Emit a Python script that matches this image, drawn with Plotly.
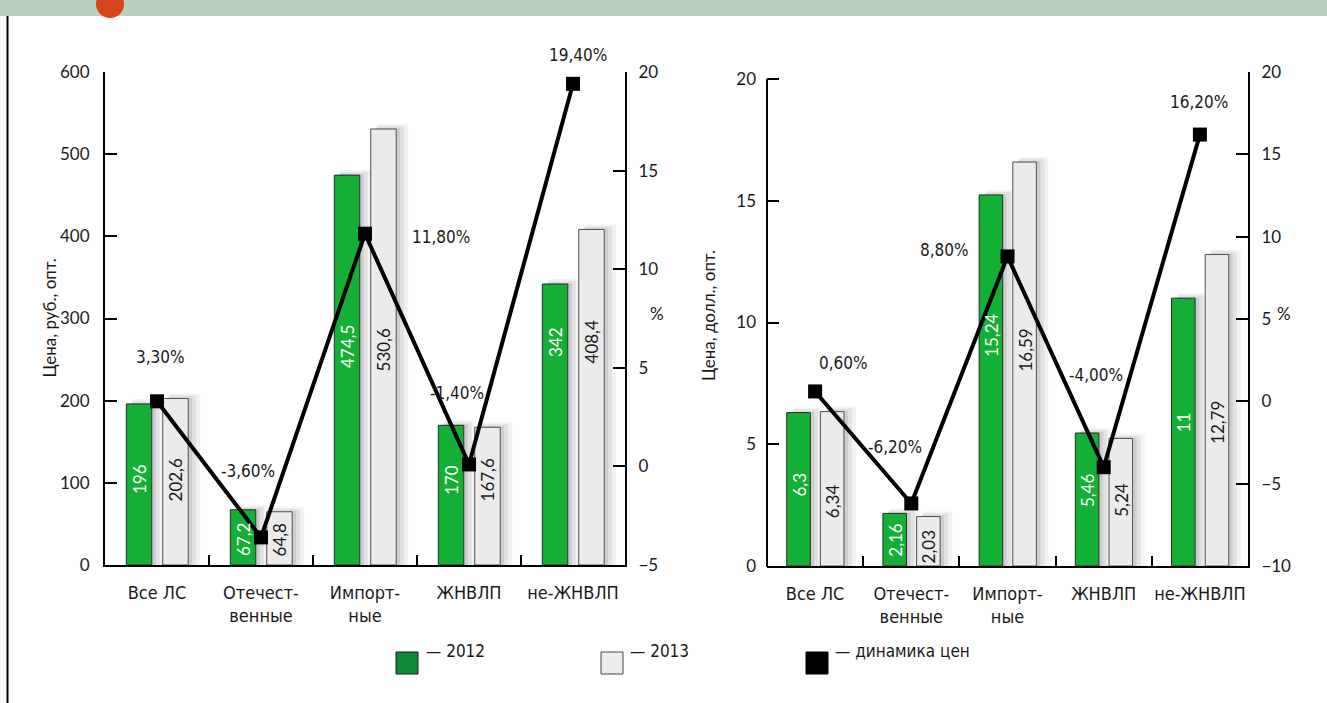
import plotly.graph_objects as go

# ---------------- data ----------------
categories = ["Все ЛС", "Отечест-<br>венные", "Импорт-<br>ные", "ЖНВЛП", "не-ЖНВЛП"]
rub_2012 = [196, 67.2, 474.5, 170, 342]
rub_2013 = [202.6, 64.8, 530.6, 167.6, 408.4]
# price dynamics as drawn (marker positions) and as labelled
rub_change = [3.3, -3.6, 11.8, 0.1, 19.4]
rub_change_labels = ["3,30%", "-3,60%", "11,80%", "-1,40%", "19,40%"]
usd_2012 = [6.3, 2.16, 15.24, 5.46, 11]
usd_2013 = [6.34, 2.03, 16.59, 5.24, 12.79]
usd_change = [0.6, -6.2, 8.8, -4.0, 16.2]
usd_change_labels = ["0,60%", "-6,20%", "8,80%", "-4,00%", "16,20%"]
legend_labels = ["— 2012", "— 2013", "— динамика цен"]
left_title = "Цена, руб., опт."
right_title = "Цена, долл., опт."

W, H = 1327, 703
NARROW = "Liberation Sans Narrow, DejaVu Sans Condensed, Roboto Condensed, sans-serif"
NUM = "Lato, Open Sans, sans-serif"
GREEN = "#14b035"
GRAY = "#ebebeb"
TXT = "#1a1a1a"


def fx(p):
    return p / W


def fy(p):
    return 1 - p / H


def fmt(v):
    if float(v).is_integer():
        return str(int(v))
    return ("%g" % v).replace(".", ",")


fig = go.Figure()

# layout geometry & label placement (pixels)
charts = [
    dict(x0=105, x1=625, y0=72, y1=565, ytop=72, xa="x", ya="y", ya2="y2",
         yr=[0, 600], yr2=[-5, 20], d12=rub_2012, d13=rub_2013, ch=rub_change,
         chl=rub_change_labels,
         lab_shift=[(3, 44), (-13, 66), (76, -3), (-12, 71), (5, 29)],
         txt12=[86, 25, 218, 85, 223], txt13=[85, 26, 215, 85, 223]),
    dict(x0=767, x1=1248, y0=72, y1=566, ytop=79, xa="x2", ya="y3", ya2="y4",
         yr=[0, 20 * 494 / 487], yr2=[-10, 20], d12=usd_2012, d13=usd_2013, ch=usd_change,
         chl=usd_change_labels,
         lab_shift=[(28, 28), (-16, 56), (-63, 6), (-8, 92), (-1, 33)],
         txt12=[81, 26, 231, 76, 144], txt13=[65, 19, 216, 66, 144]),
]

BW = 0.245
OFF12 = -0.295
OFF13 = 0.055

for c in charts:
    cat_px = (c["x1"] - c["x0"]) / len(categories)
    unit_y = (c["yr"][1] - c["yr"][0]) / (c["y1"] - c["y0"])
    px_x = 1 / cat_px
    # soft shadows behind the bars
    for vals, off in [(c["d12"], OFF12), (c["d13"], OFF13)]:
        for dxl, dxr, dyt, col in [(7, 12, 5, "#f3f3f3"), (6, 8, 3, "#e2e2e2"), (5, 4, 1, "#cdcdcd")]:
            left = off + dxl * px_x
            right = off + BW + dxr * px_x
            fig.add_trace(go.Bar(
                x=categories, y=[v + dyt * unit_y for v in vals],
                offset=left, width=right - left,
                marker=dict(color=col, line=dict(width=0)),
                xaxis=c["xa"], yaxis=c["ya"], hoverinfo="skip", showlegend=False))
    fig.add_trace(go.Bar(
        x=categories, y=c["d12"], offset=OFF12, width=BW,
        marker=dict(color=GREEN, line=dict(color="#2b2b2b", width=1)),
        xaxis=c["xa"], yaxis=c["ya"], showlegend=False, name="2012"))
    fig.add_trace(go.Bar(
        x=categories, y=c["d13"], offset=OFF13, width=BW,
        marker=dict(color=GRAY, line=dict(color="#505050", width=1)),
        xaxis=c["xa"], yaxis=c["ya"], showlegend=False, name="2013"))
    # value labels inside the bars
    for vals, off, shifts, col in [(c["d12"], OFF12, c["txt12"], "white"),
                                   (c["d13"], OFF13, c["txt13"], TXT)]:
        for i, (v, s) in enumerate(zip(vals, shifts)):
            fig.add_annotation(x=i + off + BW / 2, y=0, xref=c["xa"], yref=c["ya"],
                               text=fmt(v), textangle=-90, showarrow=False, yshift=s,
                               font=dict(family=NUM, size=17, color=col))
    fig.add_trace(go.Scatter(
        x=categories, y=c["ch"], mode="lines+markers",
        line=dict(color="black", width=4),
        marker=dict(symbol="square", size=14, color="black"),
        xaxis=c["xa"], yaxis=c["ya2"], showlegend=False, name="динамика цен",
        cliponaxis=False))
    for cat, v, lab, (dx, dy) in zip(categories, c["ch"], c["chl"], c["lab_shift"]):
        fig.add_annotation(x=cat, y=v, xref=c["xa"], yref=c["ya2"], text=lab,
                           showarrow=False, xshift=dx, yshift=dy,
                           font=dict(family=NARROW, size=17, color=TXT))

axis_common = dict(showgrid=False, zeroline=False, linecolor="black",
                   linewidth=2, ticks="inside", tickcolor="black", tickwidth=2,
                   automargin=False)

for i, c in enumerate(charts):
    xname = "xaxis" if i == 0 else "xaxis2"
    y1n = "yaxis" if i == 0 else "yaxis3"
    y2n = "yaxis2" if i == 0 else "yaxis4"
    dom_y = [fy(c["y1"]), fy(c["y0"])]
    fig.update_layout(**{
        xname: dict(domain=[fx(c["x0"]), fx(c["x1"])], anchor=c["ya"], type="category",
                    categoryorder="array", categoryarray=categories,
                    range=[-0.5, len(categories) - 0.5], tickson="boundaries",
                    ticklen=10, ticklabelstandoff=10, tickangle=0, showline=True,
                    tickfont=dict(family=NARROW, size=18, color=TXT), **axis_common),
        y1n: dict(domain=dom_y, anchor=c["xa"], range=c["yr"], dtick=100 if i == 0 else 5,
                  tick0=0, ticklen=12, ticklabelstandoff=10, showline=(i == 0),
                  tickfont=dict(family=NUM, size=17, color=TXT), **axis_common),
        y2n: dict(domain=dom_y, anchor=c["xa"], overlaying=c["ya"], side="right",
                  range=c["yr2"], dtick=5, tick0=0, ticklen=12, ticklabelstandoff=8,
                  showline=True,
                  tickfont=dict(family=NUM, size=17, color=TXT), **axis_common),
    })

# left axis line of the dollar chart starts at its top tick
c = charts[1]
fig.add_shape(type="line", xref="paper", yref="paper", x0=fx(c["x0"]), x1=fx(c["x0"]),
              y0=fy(c["y1"] + 1), y1=fy(c["ytop"]), line=dict(color="black", width=2))

fig.add_annotation(x=fx(36), y=fy(318), xref="paper", yref="paper", text=left_title,
                   textangle=-90, showarrow=False, font=dict(family=NUM, size=17, color=TXT))
fig.add_annotation(x=fx(708), y=fy(316), xref="paper", yref="paper", text=right_title,
                   textangle=-90, showarrow=False, font=dict(family=NUM, size=17, color=TXT))
for xp in (657, 1293):
    fig.add_annotation(x=fx(xp), y=fy(313), xref="paper", yref="paper", text="%",
                       showarrow=False, font=dict(family=NUM, size=17, color=TXT))

# header band, bullet and left frame line
fig.add_shape(type="rect", xref="paper", yref="paper", x0=0, x1=1, y0=fy(16), y1=1,
              fillcolor="#b8d0bc", line=dict(width=0), layer="below")
fig.add_shape(type="circle", xref="paper", yref="paper", x0=fx(96), x1=fx(124),
              y0=fy(18), y1=fy(-10), fillcolor="#d8441c", line=dict(width=0))
fig.add_shape(type="line", xref="paper", yref="paper", x0=fx(7.5), x1=fx(7.5),
              y0=0, y1=fy(16), line=dict(color="black", width=2))

# legend
leg = [(396, "#0e8a3a", TXT, 424), (601, "#eeeeee", "#444444", 628), (806, "black", "black", 833)]
for (xs, fc, lc, xt), lab in zip(leg, legend_labels):
    fig.add_shape(type="rect", xref="paper", yref="paper", x0=fx(xs), x1=fx(xs + 22),
                  y0=fy(674), y1=fy(652), fillcolor=fc, line=dict(color=lc, width=1))
    fig.add_annotation(x=fx(xt), y=fy(663), xref="paper", yref="paper", text=lab,
                       xanchor="left", showarrow=False,
                       font=dict(family=NARROW, size=17, color=TXT))

fig.update_layout(template="none", width=W, height=H, margin=dict(l=0, r=0, t=0, b=0, pad=0),
                  paper_bgcolor="white", plot_bgcolor="rgba(0,0,0,0)",
                  barmode="overlay", showlegend=False)

fig.write_html("out.html", config={"displayModeBar": False},
               post_script="document.body.style.margin='0';")
